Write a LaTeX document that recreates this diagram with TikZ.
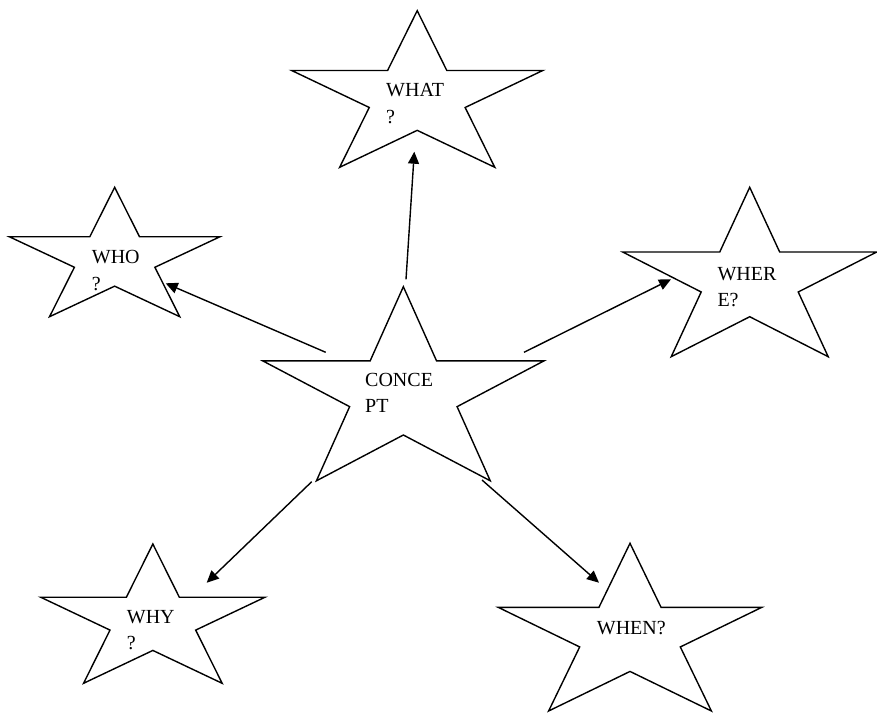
\documentclass[tikz,border=0pt]{standalone}
\usepackage{fontspec}
\setmainfont{Liberation Serif}
\usetikzlibrary{arrows.meta}

% five-pointed star filling the unit box (0,0)-(1,1), y downwards
\newcommand\unitstarpath{%
  (0.5,0) -- (0.382,0.382) -- (0,0.382) -- (0.309,0.618) -- (0.191,1) --
  (0.5,0.764) -- (0.809,1) -- (0.691,0.618) -- (1,0.382) -- (0.618,0.382) -- cycle}
% \starshape{left}{top}{width}{height}
\newcommand\starshape[4]{%
  \begin{scope}[shift={(#1,#2)},xscale=#3,yscale=#4]
    \draw[starline] \unitstarpath;
  \end{scope}}

\begin{document}
\begin{tikzpicture}[x=1pt,y=-1pt,
  starline/.style={line width=1.4pt,line join=miter,fill=white},
  % anchored at the baseline of the last line of the text
  label/.style={anchor=base west,align=left,inner sep=0pt,
    font=\fontsize{20}{26.4}\selectfont},
  link/.style={line width=1.4pt,-{Triangle[length=12pt,width=11pt]}}]
\useasboundingbox (0,0) rectangle (877,712);

% stars
\starshape{291.7}{10.7}{251}{156.6}
\starshape{9.3}{187.3}{210.7}{129.4}
\starshape{622.7}{187.3}{254}{169.4}
\starshape{262.7}{286.7}{281.3}{194.1}
\starshape{40.7}{544}{224.3}{139.3}
\starshape{498.3}{543.3}{263.4}{167.7}

% labels
\node[label] (what)    at (386,123.2)   {WHAT\\?};
\node[label] (who)     at (91.7,290.2)  {WHO\\?};
\node[label] (where)   at (717.3,306.8) {WHER\\E?};
\node[label] (concept) at (365,412.8)   {CONCE\\PT};
\node[label] (why)     at (126.7,649.5) {WHY\\?};
\node[label] (when)    at (596.7,634.3) {WHEN?};

% connector ends
\coordinate (whatS)  at (406,279.3);
\coordinate (whatE)  at (414.3,151.7);
\coordinate (whoS)   at (325.7,352.3);
\coordinate (whoE)   at (165.7,283.3);
\coordinate (whereS) at (524,352.3);
\coordinate (whereE) at (671,279.3);
\coordinate (whyS)   at (311.7,481.7);
\coordinate (whyE)   at (206.7,582.7);
\coordinate (whenS)  at (482,480);
\coordinate (whenE)  at (599,582.7);

% connectors
\draw[link] (whatS)  -- (whatE);
\draw[link] (whoS)   -- (whoE);
\draw[link] (whereS) -- (whereE);
\draw[link] (whyS)   -- (whyE);
\draw[link] (whenS)  -- (whenE);
\end{tikzpicture}
\end{document}
